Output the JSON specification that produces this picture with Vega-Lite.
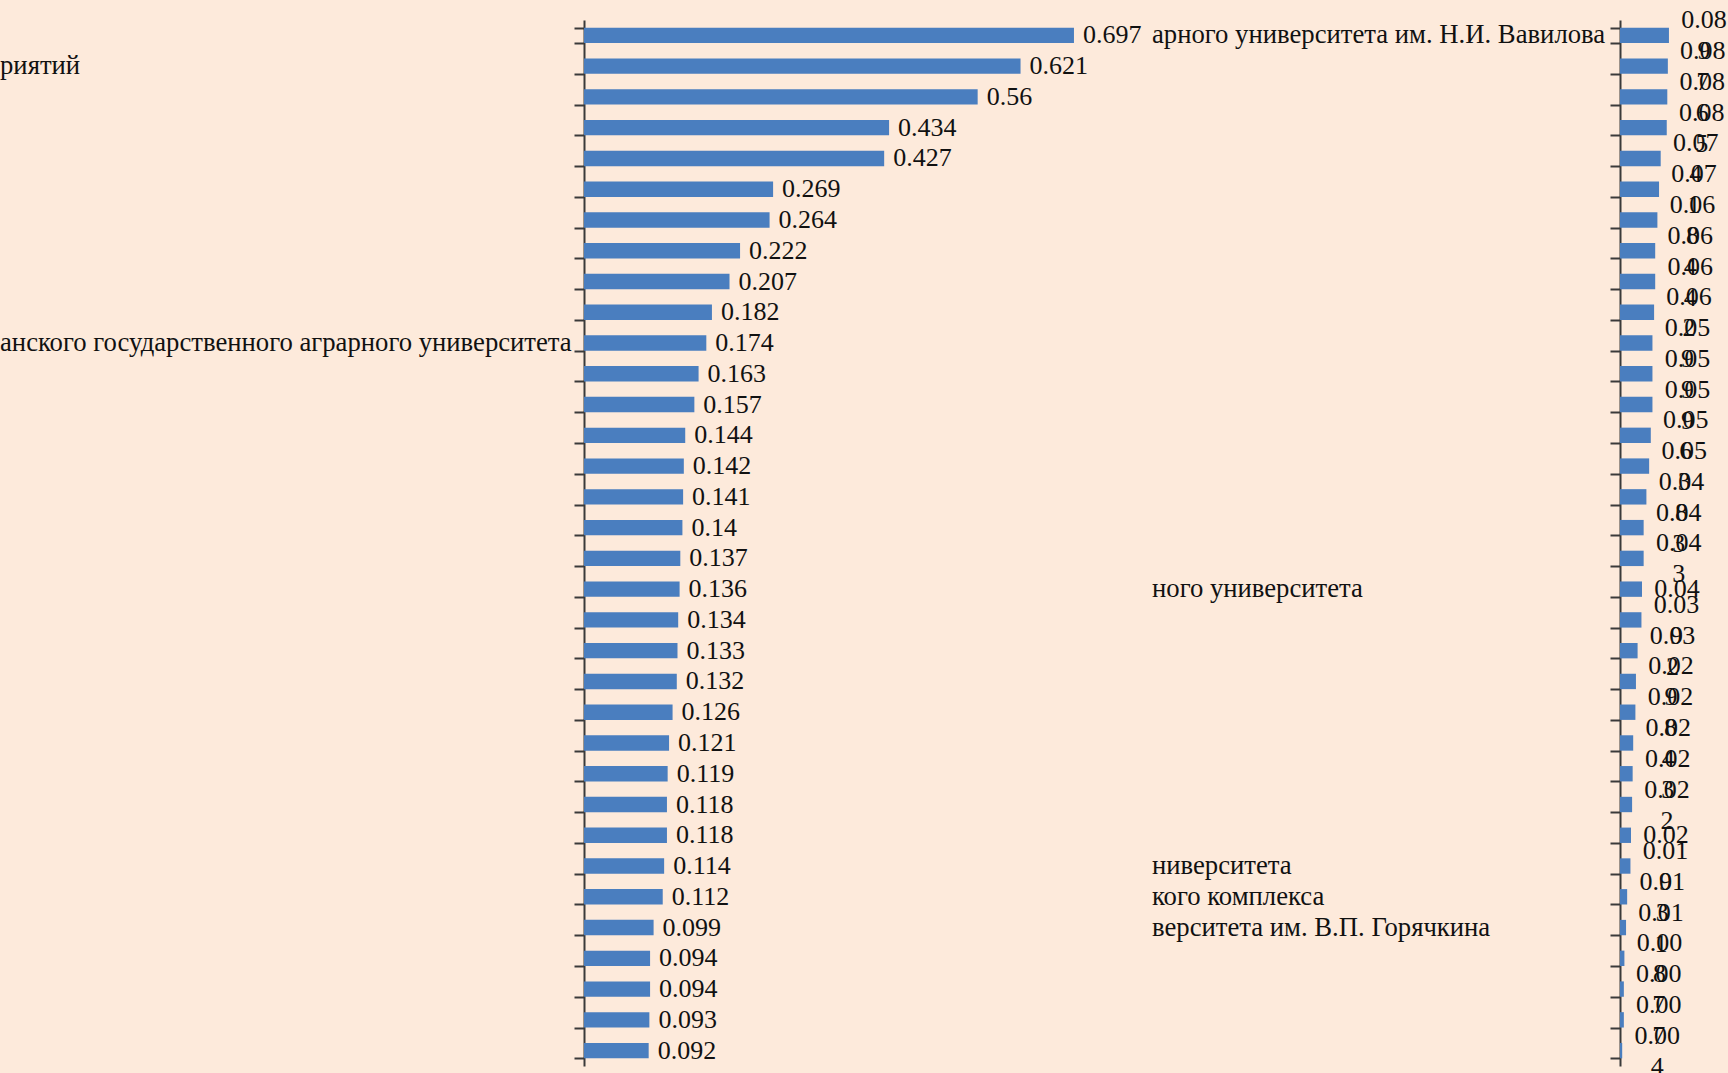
{
  "$schema": "https://vega.github.io/schema/vega-lite/v6.json",
  "background": "#FDEADB",
  "padding": {"left": 0, "top": 7, "right": 0, "bottom": 0},
  "autosize": {"type": "pad"},
  "spacing": 0,
  "config": {
    "view": {"stroke": null},
    "font": "Liberation Serif",
    "text": {"font": "Liberation Serif", "fontSize": 26, "color": "#111111", "baseline": "middle"}
  },
  "datasets": {
    "left": [
      {"rank": 1, "org": "", "value": 0.697},
      {"rank": 2, "org": "риятий", "value": 0.621},
      {"rank": 3, "org": "", "value": 0.56},
      {"rank": 4, "org": "", "value": 0.434},
      {"rank": 5, "org": "", "value": 0.427},
      {"rank": 6, "org": "", "value": 0.269},
      {"rank": 7, "org": "", "value": 0.264},
      {"rank": 8, "org": "", "value": 0.222},
      {"rank": 9, "org": "", "value": 0.207},
      {"rank": 10, "org": "", "value": 0.182},
      {"rank": 11, "org": "анского государственного аграрного университета", "value": 0.174},
      {"rank": 12, "org": "", "value": 0.163},
      {"rank": 13, "org": "", "value": 0.157},
      {"rank": 14, "org": "", "value": 0.144},
      {"rank": 15, "org": "", "value": 0.142},
      {"rank": 16, "org": "", "value": 0.141},
      {"rank": 17, "org": "", "value": 0.14},
      {"rank": 18, "org": "", "value": 0.137},
      {"rank": 19, "org": "", "value": 0.136},
      {"rank": 20, "org": "", "value": 0.134},
      {"rank": 21, "org": "", "value": 0.133},
      {"rank": 22, "org": "", "value": 0.132},
      {"rank": 23, "org": "", "value": 0.126},
      {"rank": 24, "org": "", "value": 0.121},
      {"rank": 25, "org": "", "value": 0.119},
      {"rank": 26, "org": "", "value": 0.118},
      {"rank": 27, "org": "", "value": 0.118},
      {"rank": 28, "org": "", "value": 0.114},
      {"rank": 29, "org": "", "value": 0.112},
      {"rank": 30, "org": "", "value": 0.099},
      {"rank": 31, "org": "", "value": 0.094},
      {"rank": 32, "org": "", "value": 0.094},
      {"rank": 33, "org": "", "value": 0.093},
      {"rank": 34, "org": "", "value": 0.092}
    ],
    "right": [
      {"rank": 1, "org": "арного университета им. Н.И. Вавилова", "value": 0.089, "lbl": "0.08\n9", "lines": 2},
      {"rank": 2, "org": "", "value": 0.087, "lbl": "0.08\n7", "lines": 2},
      {"rank": 3, "org": "", "value": 0.086, "lbl": "0.08\n6", "lines": 2},
      {"rank": 4, "org": "", "value": 0.085, "lbl": "0.08\n5", "lines": 2},
      {"rank": 5, "org": "", "value": 0.074, "lbl": "0.07\n4", "lines": 2},
      {"rank": 6, "org": "", "value": 0.071, "lbl": "0.07\n1", "lines": 2},
      {"rank": 7, "org": "", "value": 0.068, "lbl": "0.06\n8", "lines": 2},
      {"rank": 8, "org": "", "value": 0.064, "lbl": "0.06\n4", "lines": 2},
      {"rank": 9, "org": "", "value": 0.064, "lbl": "0.06\n4", "lines": 2},
      {"rank": 10, "org": "", "value": 0.062, "lbl": "0.06\n2", "lines": 2},
      {"rank": 11, "org": "", "value": 0.059, "lbl": "0.05\n9", "lines": 2},
      {"rank": 12, "org": "", "value": 0.059, "lbl": "0.05\n9", "lines": 2},
      {"rank": 13, "org": "", "value": 0.059, "lbl": "0.05\n9", "lines": 2},
      {"rank": 14, "org": "", "value": 0.056, "lbl": "0.05\n6", "lines": 2},
      {"rank": 15, "org": "", "value": 0.053, "lbl": "0.05\n3", "lines": 2},
      {"rank": 16, "org": "", "value": 0.048, "lbl": "0.04\n8", "lines": 2},
      {"rank": 17, "org": "", "value": 0.043, "lbl": "0.04\n3", "lines": 2},
      {"rank": 18, "org": "", "value": 0.043, "lbl": "0.04\n3", "lines": 2},
      {"rank": 19, "org": "ного университета", "value": 0.04, "lbl": "0.04", "lines": 1},
      {"rank": 20, "org": "", "value": 0.039, "lbl": "0.03\n9", "lines": 2},
      {"rank": 21, "org": "", "value": 0.032, "lbl": "0.03\n2", "lines": 2},
      {"rank": 22, "org": "", "value": 0.029, "lbl": "0.02\n9", "lines": 2},
      {"rank": 23, "org": "", "value": 0.028, "lbl": "0.02\n8", "lines": 2},
      {"rank": 24, "org": "", "value": 0.024, "lbl": "0.02\n4", "lines": 2},
      {"rank": 25, "org": "", "value": 0.023, "lbl": "0.02\n3", "lines": 2},
      {"rank": 26, "org": "", "value": 0.022, "lbl": "0.02\n2", "lines": 2},
      {"rank": 27, "org": "", "value": 0.02, "lbl": "0.02", "lines": 1},
      {"rank": 28, "org": "ниверситета", "value": 0.019, "lbl": "0.01\n9", "lines": 2},
      {"rank": 29, "org": "кого комплекса", "value": 0.013, "lbl": "0.01\n3", "lines": 2},
      {"rank": 30, "org": "верситета им. В.П. Горячкина", "value": 0.011, "lbl": "0.01\n1", "lines": 2},
      {"rank": 31, "org": "", "value": 0.008, "lbl": "0.00\n8", "lines": 2},
      {"rank": 32, "org": "", "value": 0.007, "lbl": "0.00\n7", "lines": 2},
      {"rank": 33, "org": "", "value": 0.007, "lbl": "0.00\n7", "lines": 2},
      {"rank": 34, "org": "", "value": 0.004, "lbl": "0.00\n4", "lines": 2}
    ]
  },
  "hconcat": [
    {
      "data": {"name": "left"},
      "width": 568,
      "height": 1046,
      "encoding": {
        "y": {
          "field": "rank", "type": "ordinal",
          "scale": {"paddingInner": 0.5, "paddingOuter": 0.25},
          "axis": {"title": null, "labels": false, "tickBand": "extent", "tickSize": 10, "tickWidth": 2, "domainWidth": 2, "domainColor": "#3a3a3a", "tickColor": "#3a3a3a"}
        }
      },
      "layer": [
        {
          "mark": {"type": "bar", "color": "#4A7EBF"},
          "encoding": {"x": {"field": "value", "type": "quantitative", "scale": {"domain": [0, 0.808], "nice": false}, "axis": null}}
        },
        {
          "mark": {"type": "text", "align": "left", "dx": 9},
          "encoding": {"x": {"field": "value", "type": "quantitative"}, "text": {"field": "value", "type": "nominal"}}
        },
        {
          "mark": {"type": "text", "align": "left", "dx": -584, "fontSize": 26.7},
          "encoding": {"x": {"datum": 0, "type": "quantitative"}, "text": {"field": "org", "type": "nominal"}}
        }
      ]
    },
    {
      "data": {"name": "right"},
      "width": 110,
      "height": 1046,
      "encoding": {
        "y": {
          "field": "rank", "type": "ordinal",
          "scale": {"paddingInner": 0.5, "paddingOuter": 0.25},
          "axis": {"title": null, "labels": false, "tickBand": "extent", "tickSize": 10, "tickWidth": 2, "domainWidth": 2, "domainColor": "#3a3a3a", "tickColor": "#3a3a3a"}
        }
      },
      "layer": [
        {
          "mark": {"type": "bar", "color": "#4A7EBF"},
          "encoding": {"x": {"field": "value", "type": "quantitative", "scale": {"domain": [0, 0.2], "nice": false}, "axis": null}}
        },
        {
          "transform": [{"filter": "datum.lines == 2"}],
          "mark": {"type": "text", "align": "center", "dx": 35, "dy": -15, "lineBreak": "\n", "lineHeight": 31},
          "encoding": {"x": {"field": "value", "type": "quantitative"}, "text": {"field": "lbl", "type": "nominal"}}
        },
        {
          "transform": [{"filter": "datum.lines == 1"}],
          "mark": {"type": "text", "align": "center", "dx": 35},
          "encoding": {"x": {"field": "value", "type": "quantitative"}, "text": {"field": "lbl", "type": "nominal"}}
        },
        {
          "mark": {"type": "text", "align": "left", "dx": -468, "fontSize": 26.7},
          "encoding": {"x": {"datum": 0, "type": "quantitative"}, "text": {"field": "org", "type": "nominal"}}
        }
      ]
    }
  ]
}
